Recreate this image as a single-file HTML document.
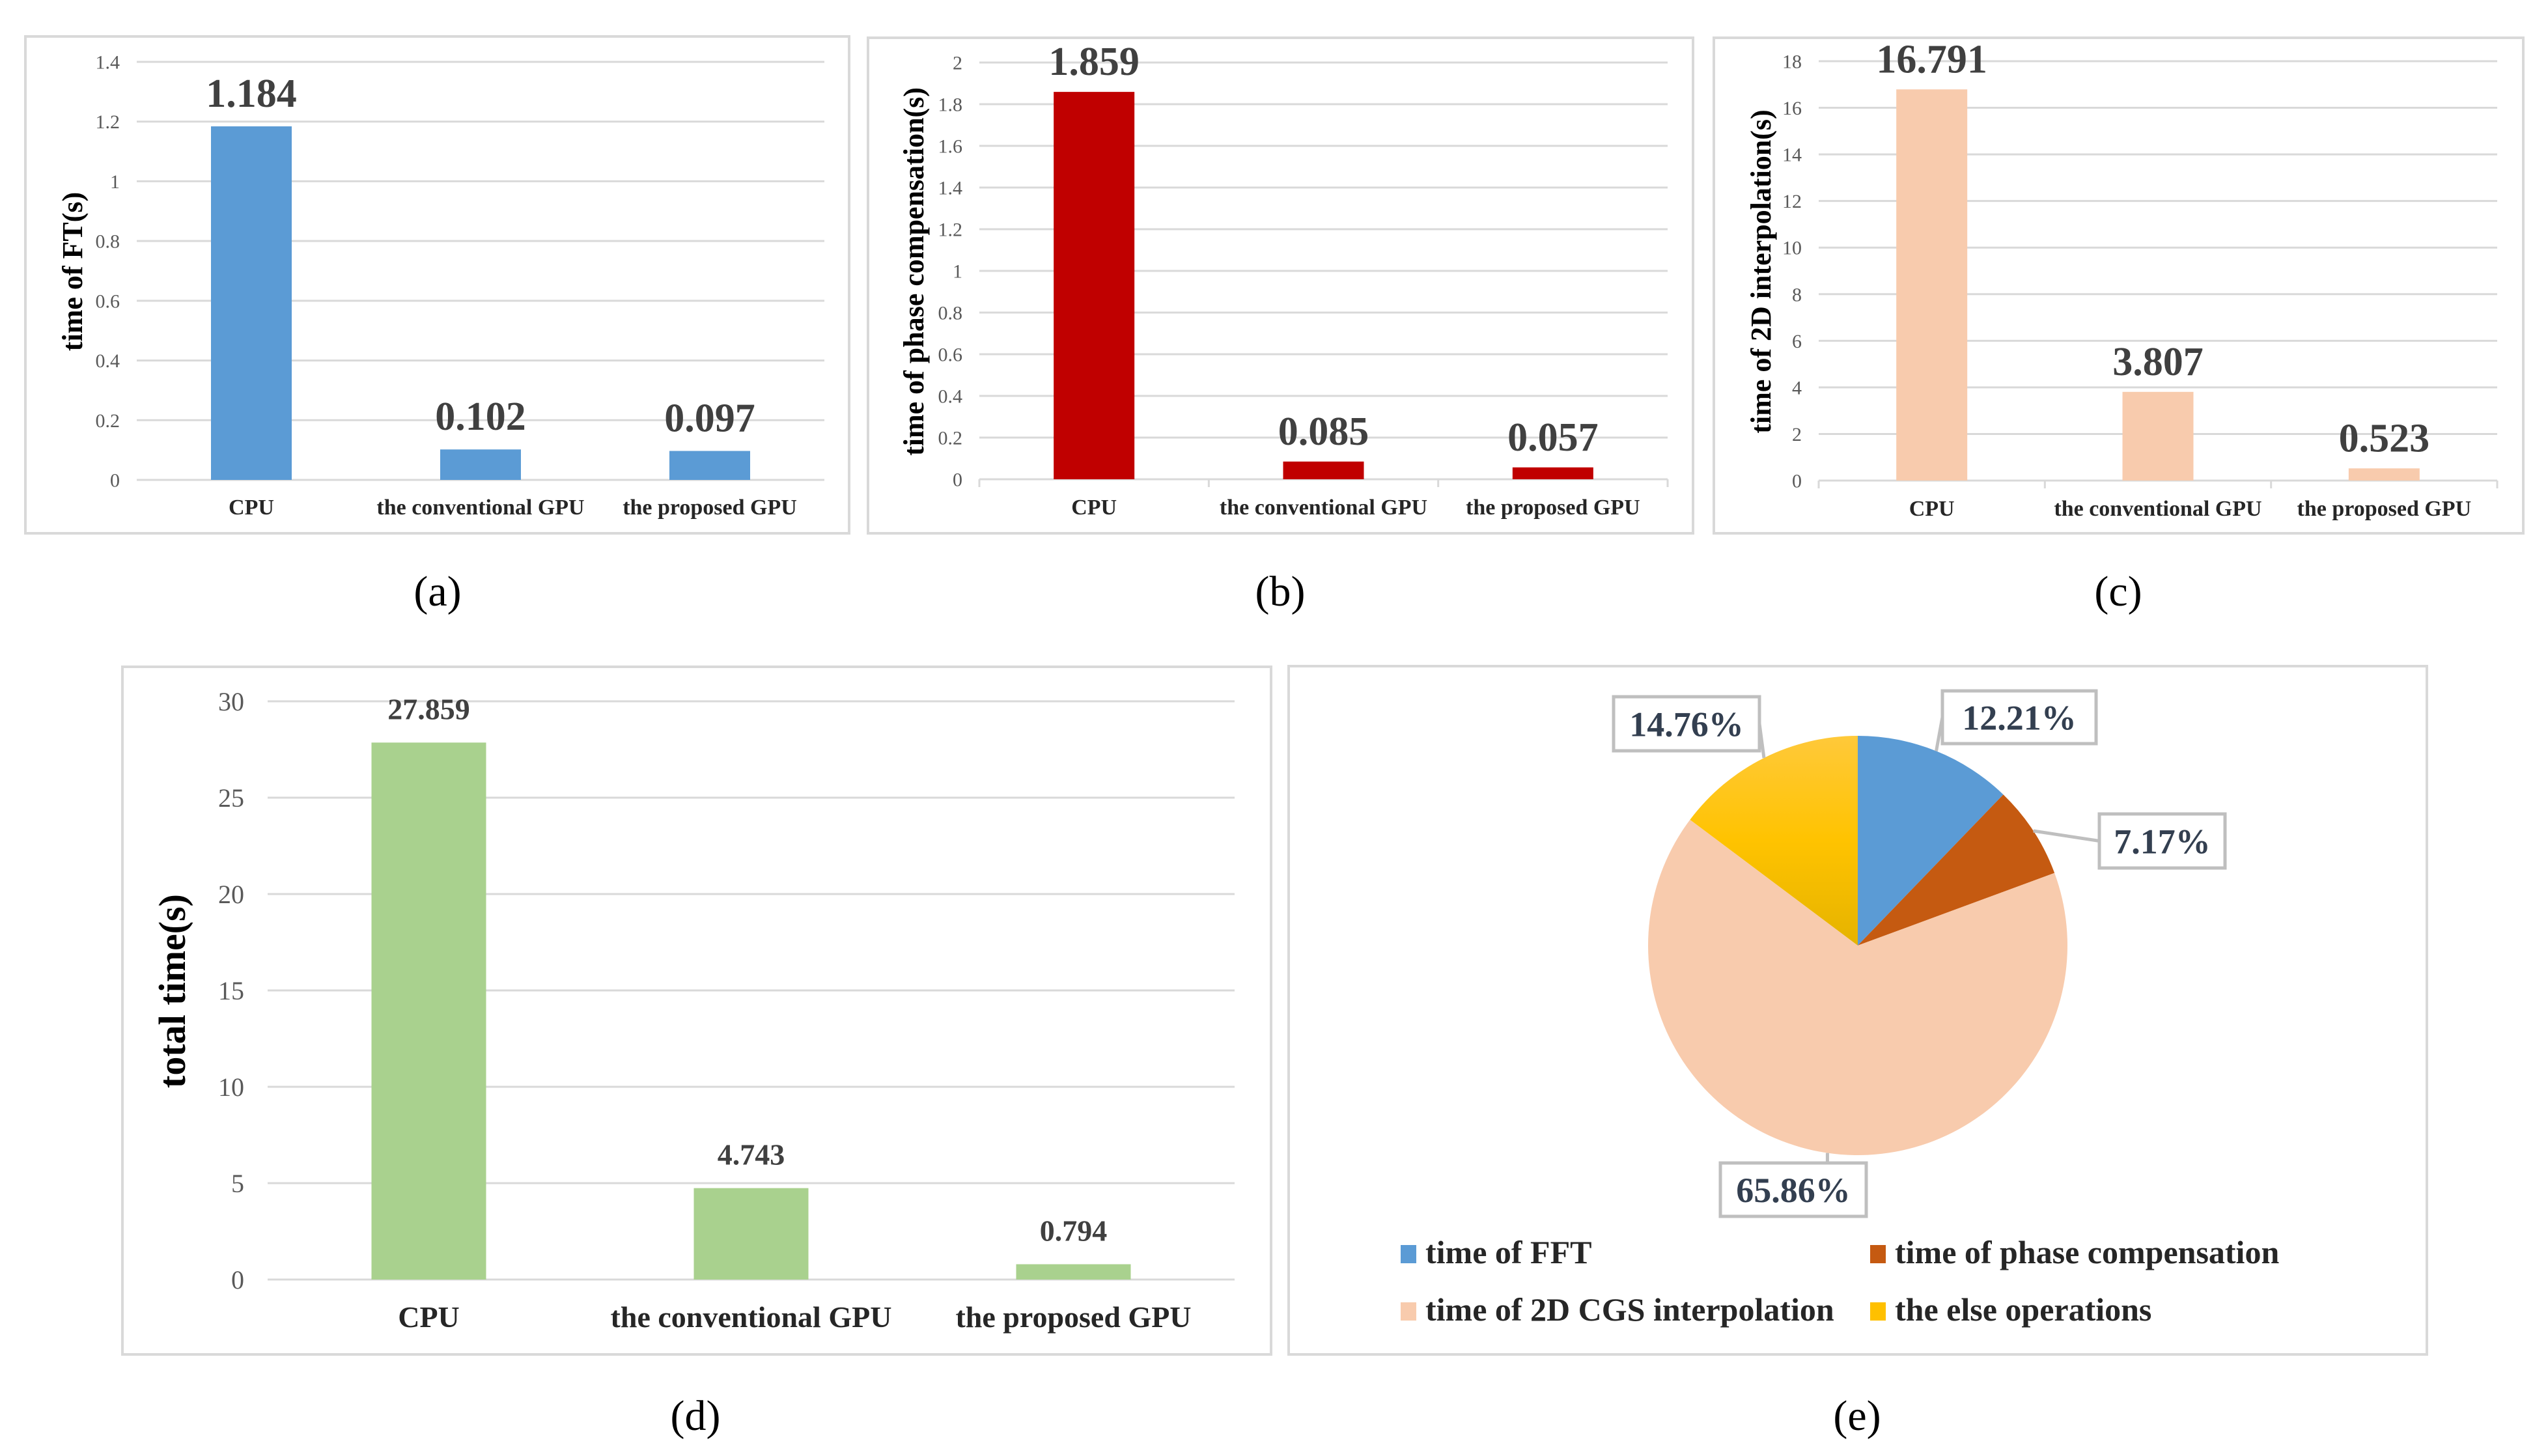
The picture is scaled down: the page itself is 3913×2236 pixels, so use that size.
<!DOCTYPE html>
<html><head><meta charset="utf-8"><style>
html,body{margin:0;padding:0;background:#fff}
svg{display:block}
text{font-family:"Liberation Serif",serif}
</style></head><body>
<svg id="fig" width="3913" height="2236" viewBox="0 0 3913 2236" xmlns="http://www.w3.org/2000/svg"></svg>
<script>
const categories = ["CPU", "the conventional GPU", "the proposed GPU"];
const fftValues = [1.184, 0.102, 0.097];
const fftTicks = [0, 0.2, 0.4, 0.6, 0.8, 1, 1.2, 1.4];
const phaseValues = [1.859, 0.085, 0.057];
const phaseTicks = [0, 0.2, 0.4, 0.6, 0.8, 1, 1.2, 1.4, 1.6, 1.8, 2];
const interpValues = [16.791, 3.807, 0.523];
const interpTicks = [0, 2, 4, 6, 8, 10, 12, 14, 16, 18];
const totalValues = [27.859, 4.743, 0.794];
const totalTicks = [0, 5, 10, 15, 20, 25, 30];
const pieLabels = ["time of FFT", "time of phase compensation", "time of 2D CGS interpolation", "the else operations"];
const pieValues = [12.21, 7.17, 65.86, 14.76];

const NS = "http://www.w3.org/2000/svg";
const svg = document.getElementById("fig");
function mk(tag, attrs, parent, txt) {
  const e = document.createElementNS(NS, tag);
  for (const k in attrs) e.setAttribute(k, attrs[k]);
  if (txt !== undefined) e.textContent = txt;
  (parent || svg).appendChild(e);
  return e;
}

svg.innerHTML = `<defs><linearGradient id="yel" x1="0" y1="0" x2="0" y2="1">
<stop offset="0" stop-color="#FFC93A"/><stop offset="0.5" stop-color="#FFC300"/><stop offset="1" stop-color="#E5B300"/></linearGradient></defs>`;

function barPanel(o) {
  const g = mk("g", {});
  
  
  const frame = mk("rect", {x:o.box[0], y:o.box[1], width:o.box[2]-o.box[0], height:o.box[3]-o.box[1], fill:"#fff", stroke:"#D9D9D9", "stroke-width":4}, g);
  
  
  const tmax = o.ticks[o.ticks.length-1];
  const ys = v => o.y0 + (o.yTop - o.y0) * v / tmax;
  const n = categories.length, bw = (o.x1 - o.x0) / n;
  const xs = i => o.x0 + bw * (i + 0.5);
  o.ticks.forEach(t => {
    const l = mk("line", {x1:o.x0, x2:o.x1, y1:ys(t), y2:ys(t), stroke:"#D9D9D9", "stroke-width":3}, g);
    
    
    const tl = mk("text", {x:o.x0 - o.tickGap, y:ys(t) + o.tickFs*0.35, "text-anchor":"end", "font-size":o.tickFs, fill:"#595959"}, g, String(t));
    
    
  });
  if (o.axisTicks) {
    for (let i = 0; i <= n; i++) {
      const tk = mk("line", {x1:o.x0 + bw*i, x2:o.x0 + bw*i, y1:o.y0, y2:o.y0 + 12, stroke:"#D9D9D9", "stroke-width":3}, g);
      
      
    }
  }
  o.values.forEach((v, i) => {
    const b = mk("rect", {x:xs(i) - o.barW/2, y:ys(v), width:o.barW, height:o.y0 - ys(v), fill:o.color}, g);
    
    
    const vl = mk("text", {x:xs(i), y:ys(v) - o.valGap, "text-anchor":"middle", "font-size":o.valFs, "font-weight":"bold", fill:"#404040"}, g, String(v));
    
    
    const cl = mk("text", {x:xs(i), y:o.catY, "text-anchor":"middle", "font-size":o.catFs, "font-weight":"bold", fill:"#262626"}, g, categories[i]);
    
    
  });
  const at = mk("text", {x:0, y:0, transform:`translate(${o.titleX},${o.titleY}) rotate(-90)`, "text-anchor":"middle", "font-size":o.titleFs, "font-weight":"bold", fill:"#000", "xml:space":"preserve"}, g, o.title);
  
  
  const cap = mk("text", {x:o.capX, y:o.capY, "text-anchor":"middle", "font-size":66, fill:"#000"}, g, o.cap);
  
  
}

barPanel({name:"chart-a-fft", box:[39,56,1304,819], x0:210, x1:1266, y0:737, yTop:95, ticks:fftTicks, values:fftValues, color:"#5B9BD5", barW:124,
  tickFs:30, tickGap:26, valFs:62, valGap:30, catY:790, catFs:34, title:"time of  FT(s)", titleX:126, titleY:417, titleFs:44, capX:672, capY:930, cap:"(a)"});
barPanel({name:"chart-b-phase", box:[1333,58,2600,819], x0:1504, x1:2561, y0:736, yTop:96, ticks:phaseTicks, values:phaseValues, color:"#C00000", barW:124, axisTicks:true,
  tickFs:30, tickGap:26, valFs:62, valGap:26, catY:790, catFs:34, title:"time of phase compensation(s)", titleX:1418, titleY:417, titleFs:44, capX:1966, capY:930, cap:"(b)"});
barPanel({name:"chart-c-interp", box:[2632,58,3875,819], x0:2793, x1:3835, y0:738, yTop:94, ticks:interpTicks, values:interpValues, color:"#F8CBAD", barW:109, axisTicks:true,
  tickFs:30, tickGap:26, valFs:62, valGap:26, catY:792, catFs:34, title:"time of  2D  interpolation(s)", titleX:2719, titleY:417, titleFs:44, capX:3253, capY:930, cap:"(c)"});
barPanel({name:"chart-d-total", box:[188,1024,1952,2080], x0:411, x1:1896, y0:1965, yTop:1077, ticks:totalTicks, values:totalValues, color:"#A9D18E", barW:176,
  tickFs:40, tickGap:36, valFs:46, valGap:36, catY:2038, catFs:46, title:"total  time(s)", titleX:284, titleY:1522, titleFs:58, capX:1068, capY:2196, cap:"(d)"});

// Pie chart (e)
const pg = mk("g", {});


const pf = mk("rect", {x:1979, y:1023, width:1748, height:1057, fill:"#fff", stroke:"#D9D9D9", "stroke-width":4}, pg);


const pieColors = ["#5B9BD5", "#C55A11", "#F8CBAD", "url(#yel)"];
const legendColors = ["#5B9BD5", "#C55A11", "#F8CBAD", "#FFC000"];
const cx = 2853, cy = 1452, r = 322;
const total = pieValues.reduce((a, b) => a + b, 0);
let acc = 0;
const mids = [];
pieValues.forEach((v, i) => {
  const a0 = acc / total * 2 * Math.PI; acc += v;
  const a1 = acc / total * 2 * Math.PI;
  const p0 = [cx + r*Math.sin(a0), cy - r*Math.cos(a0)], p1 = [cx + r*Math.sin(a1), cy - r*Math.cos(a1)];
  const large = (a1 - a0) > Math.PI ? 1 : 0;
  const s = mk("path", {d:`M${cx},${cy} L${p0[0]},${p0[1]} A${r},${r} 0 ${large} 1 ${p1[0]},${p1[1]} Z`, fill:pieColors[i]}, pg);
  
  
  mids.push((a0 + a1) / 2);
});
const boxPos = [[2983,1061,236,81],[3224,1250,193,83],[2642,1786,224,82],[2478,1070,224,83]];
pieValues.forEach((v, i) => {
  const m = mids[i];
  const ex = cx + r*Math.sin(m), ey = cy - r*Math.cos(m);
  const b = boxPos[i];
  const bx = Math.min(Math.max(ex, b[0]+30), b[0]+b[2]-30), by = ey < b[1] ? b[1] : b[1]+b[3];
  const bxx = ex < b[0] ? b[0] : (ex > b[0]+b[2] ? b[0]+b[2] : bx);
  const byy = (ex < b[0] || ex > b[0]+b[2]) ? b[1]+b[3]/2 : by;
  const ld = mk("line", {x1:ex, y1:ey, x2:bxx, y2:byy, stroke:"#BFBFBF", "stroke-width":5}, pg);
  
  
  const br = mk("rect", {x:b[0], y:b[1], width:b[2], height:b[3], fill:"#fff", stroke:"#BFBFBF", "stroke-width":5}, pg);
  
  
  const t = mk("text", {x:b[0]+b[2]/2, y:b[1]+b[3]/2+19, "text-anchor":"middle", "font-size":54, "font-weight":"bold", fill:"#333F50"}, pg, v.toFixed(2) + "%");
  
  
});
const legPos = [[2151,1940],[2872,1940],[2151,2028],[2872,2028]];
pieLabels.forEach((lab, i) => {
  const [lx, ly] = legPos[i];
  const sq = mk("rect", {x:lx, y:ly-28, width:24, height:28, fill:legendColors[i]}, pg);
  
  
  const lt = mk("text", {x:lx+38, y:ly, "font-size":50, "font-weight":"bold", fill:"#262626"}, pg, lab);
  
  
});
const capE = mk("text", {x:2852, y:2196, "text-anchor":"middle", "font-size":66, fill:"#000"}, pg, "(e)");


</script>
</body></html>
